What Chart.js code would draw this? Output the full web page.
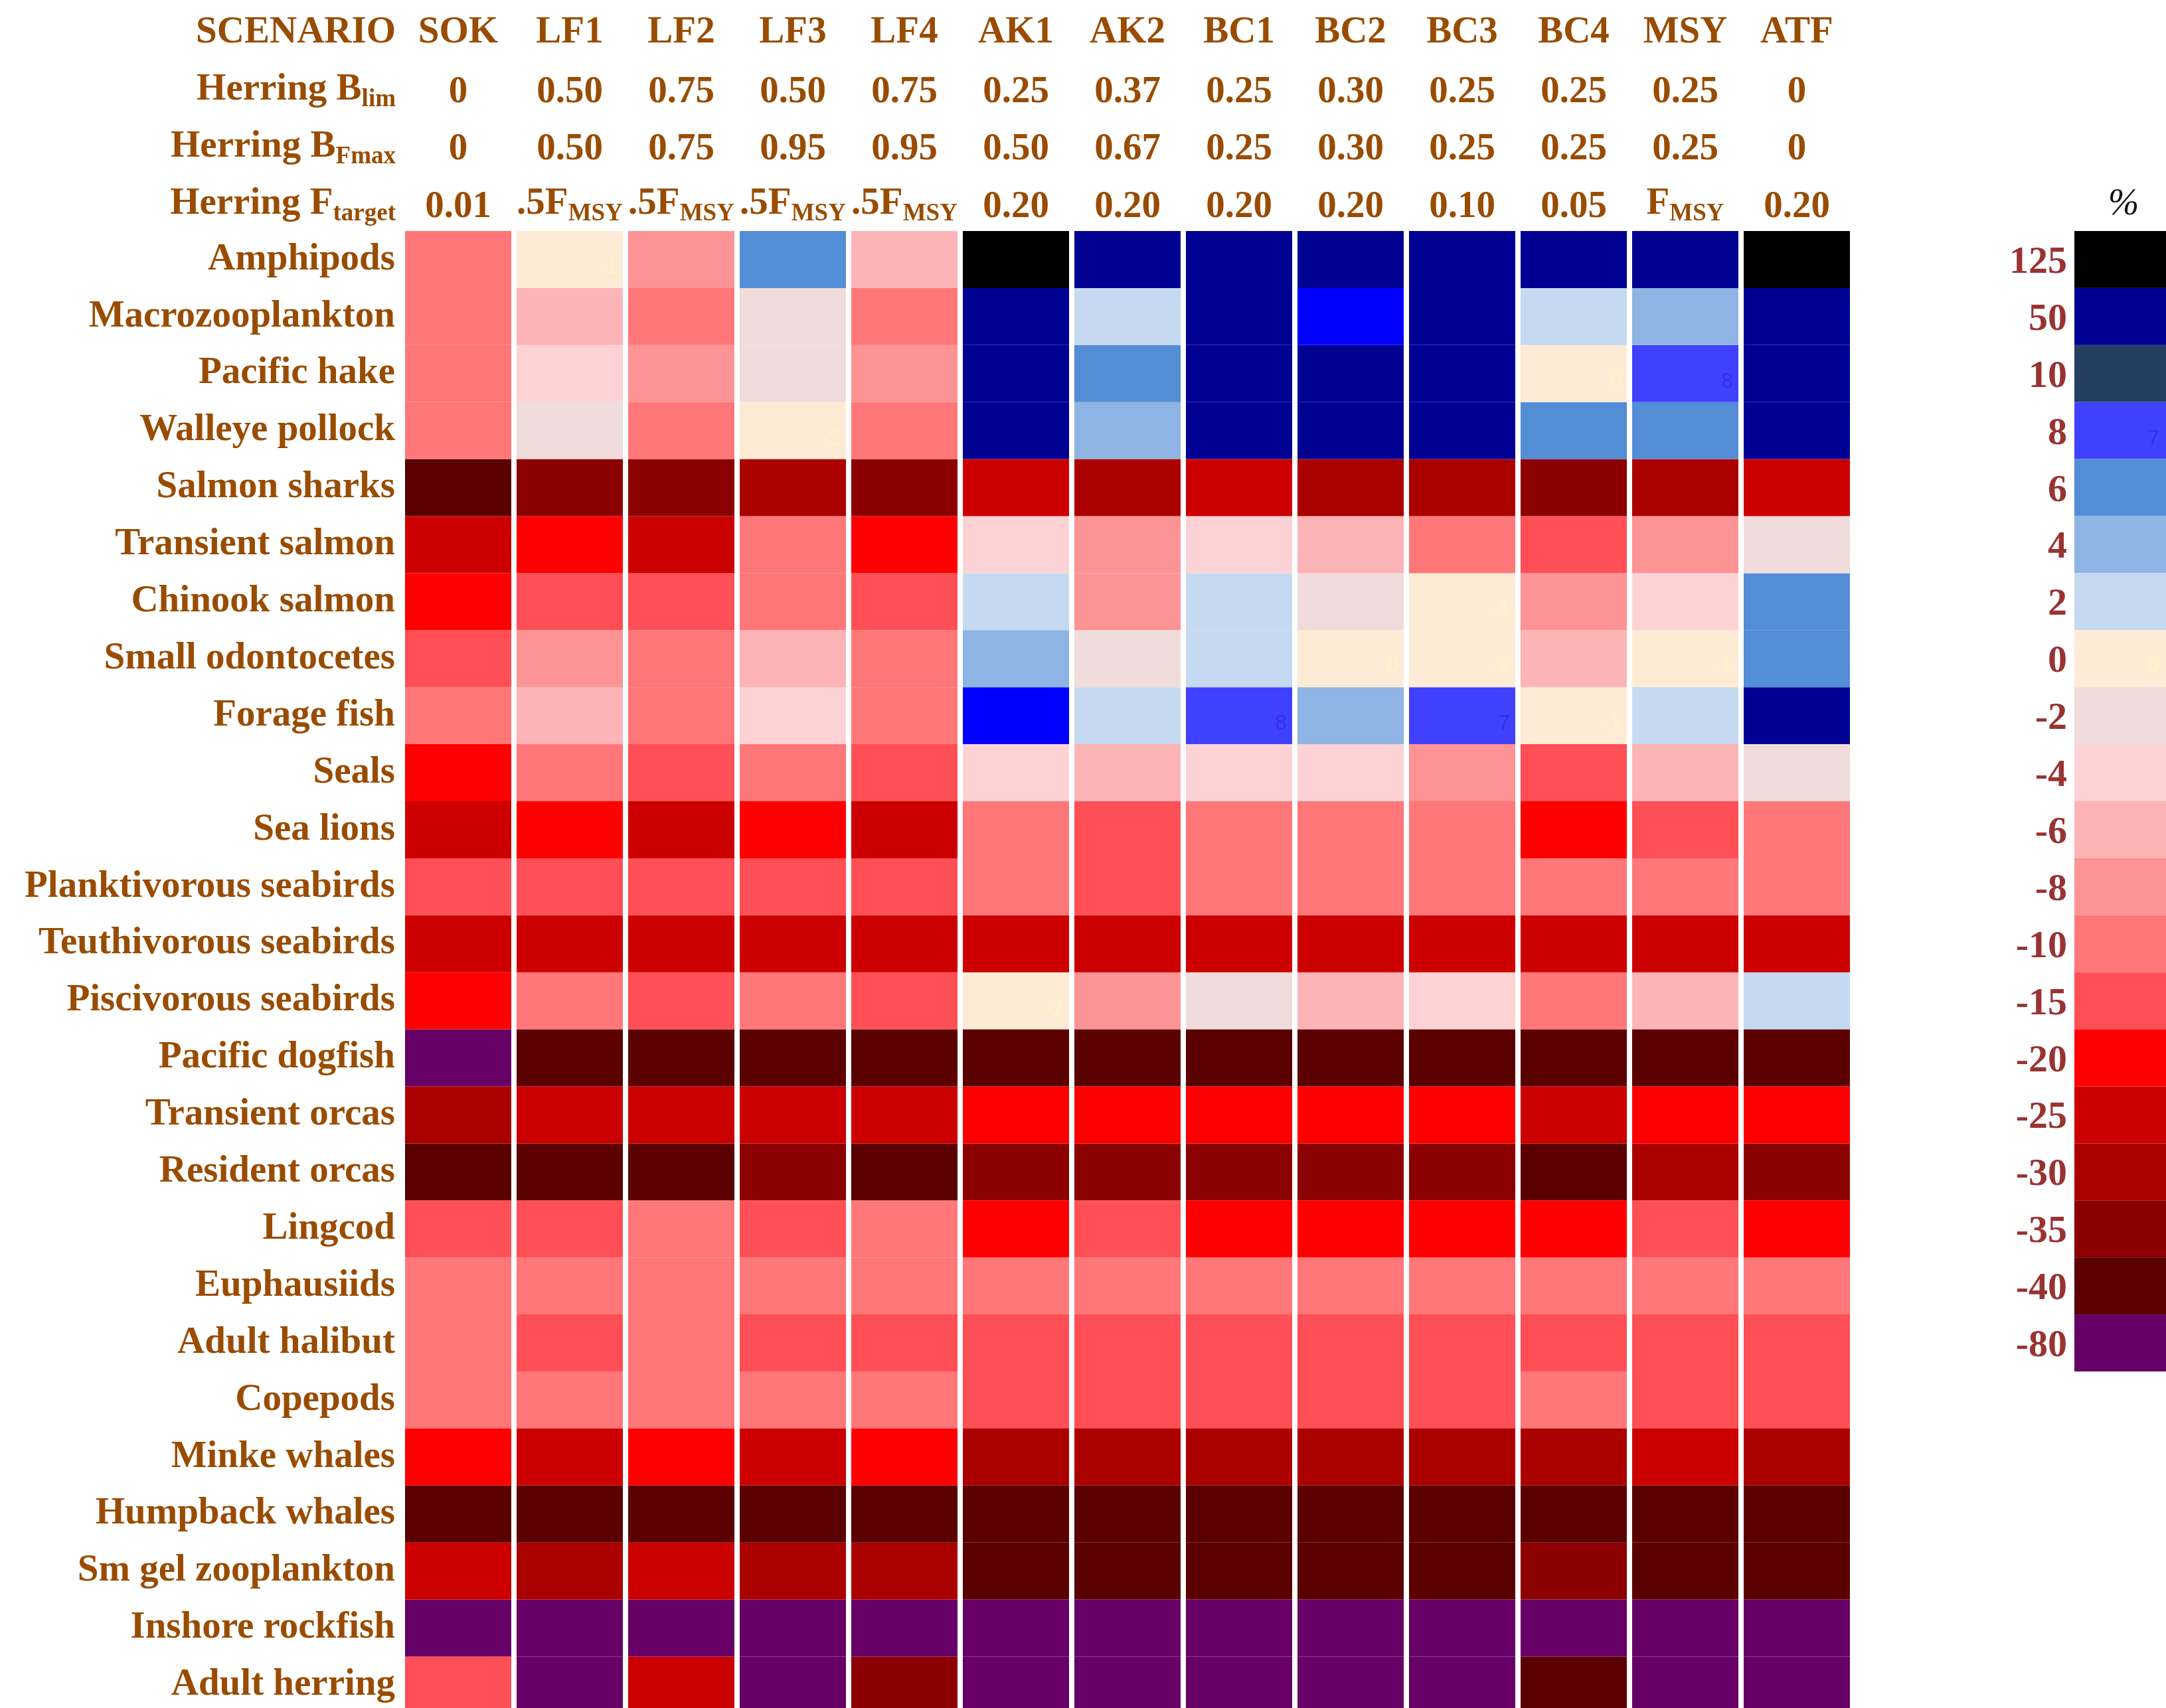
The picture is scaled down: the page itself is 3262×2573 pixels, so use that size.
<!DOCTYPE html>
<html><head><meta charset="utf-8">
<script src="https://cdn.jsdelivr.net/npm/chart.js@4.4.0/dist/chart.umd.min.js"></script>
<style>html,body{margin:0;padding:0;background:#fff;overflow:hidden}canvas{display:block}</style>
</head><body><canvas id="c" width="3262" height="2573"></canvas>
<script>
// ---------- DATA ----------
const scenarios = ['SOK','LF1','LF2','LF3','LF4','AK1','AK2','BC1','BC2','BC3','BC4','MSY','ATF'];
const herringBlim = ['0','0.50','0.75','0.50','0.75','0.25','0.37','0.25','0.30','0.25','0.25','0.25','0'];
const herringBFmax = ['0','0.50','0.75','0.95','0.95','0.50','0.67','0.25','0.30','0.25','0.25','0.25','0'];
const herringFtarget = ['0.01','.5F_MSY','.5F_MSY','.5F_MSY','.5F_MSY','0.20','0.20','0.20','0.20','0.10','0.05','F_MSY','0.20'];
const species = ['Amphipods','Macrozooplankton','Pacific hake','Walleye pollock','Salmon sharks','Transient salmon',
  'Chinook salmon','Small odontocetes','Forage fish','Seals','Sea lions','Planktivorous seabirds','Teuthivorous seabirds',
  'Piscivorous seabirds','Pacific dogfish','Transient orcas','Resident orcas','Lingcod','Euphausiids','Adult halibut',
  'Copepods','Minke whales','Humpback whales','Sm gel zooplankton','Inshore rockfish','Adult herring'];
// % change, columns in scenario order
const values = [
  [-10, -1, -8, 6, -6, 125, 50, 50, 50, 50, 50, 50, 125],
  [-10, -6, -10, -2, -10, 50, 2, 50, 20, 50, 2, 4, 50],
  [-10, -4, -8, -2, -8, 50, 6, 50, 50, 50, 0, 8, 50],
  [-10, -2, -10, -1.6, -10, 50, 4, 50, 50, 50, 6, 6, 50],
  [-40, -35, -35, -30, -35, -25, -30, -25, -30, -30, -35, -30, -25],
  [-25, -20, -25, -10, -20, -4, -8, -4, -6, -10, -15, -8, -2],
  [-20, -15, -15, -10, -15, 2, -8, 2, -2, -1, -8, -4, 6],
  [-15, -8, -10, -6, -10, 4, -2, 2, 0, -1.6, -6, -1, 6],
  [-10, -6, -10, -4, -10, 20, 2, 8, 4, 7, -1, 2, 50],
  [-20, -10, -15, -10, -15, -4, -6, -4, -4, -8, -15, -6, -2],
  [-25, -20, -25, -20, -25, -10, -15, -10, -10, -10, -20, -15, -10],
  [-15, -15, -15, -15, -15, -10, -15, -10, -10, -10, -10, -10, -10],
  [-25, -25, -25, -25, -25, -25, -25, -25, -25, -25, -25, -25, -25],
  [-20, -10, -15, -10, -15, -1.6, -8, -2, -6, -4, -10, -6, 2],
  [-80, -40, -40, -40, -40, -40, -40, -40, -40, -40, -40, -40, -40],
  [-30, -25, -25, -25, -25, -20, -20, -20, -20, -20, -25, -20, -20],
  [-40, -40, -40, -35, -40, -35, -35, -35, -35, -35, -40, -30, -35],
  [-15, -15, -10, -15, -10, -20, -15, -20, -20, -20, -20, -15, -20],
  [-10, -10, -10, -10, -10, -10, -10, -10, -10, -10, -10, -10, -10],
  [-10, -15, -10, -15, -15, -15, -15, -15, -15, -15, -15, -15, -15],
  [-10, -10, -10, -10, -10, -15, -15, -15, -15, -15, -10, -15, -15],
  [-20, -25, -20, -25, -20, -30, -30, -30, -30, -30, -30, -25, -30],
  [-40, -40, -40, -40, -40, -40, -40, -40, -40, -40, -40, -40, -40],
  [-25, -30, -25, -30, -30, -40, -40, -40, -40, -40, -35, -40, -40],
  [-80, -80, -80, -80, -80, -80, -80, -80, -80, -80, -80, -80, -80],
  [-15, -80, -25, -80, -35, -80, -80, -80, -80, -80, -40, -80, -80]
];
const legendLabels = ['125','50','10','8','6','4','2','0','-2','-4','-6','-8','-10','-15','-20','-25','-30','-35','-40','-80'];
const legendColors = ['#000000','#000093','#243f60','#4040ff','#538dd5','#8db4e2','#c5d9f1','#feebd6','#f0dcdb','#fdd2d5',
  '#fdb4b7','#fc9394','#ff7778','#ff4f56','#ff0000','#cc0000','#aa0000','#8b0000','#5a0000','#660066'];
const extraBinUpper = 20, extraBinColor = '#0000ff';   // shade used in cells, absent from the key
const faintCells = [[0,1],[2,10],[2,11],[3,3],[6,9],[7,8],[7,9],[7,11],[8,7],[8,9],[8,10],[13,5]];
const legendFaint = [[3,'7'],[7,'0']];

// ---------- STYLE / LAYOUT ----------
const W = 3262, H = 2573, TOP = 348, ROW_PX = 85.9, LABEL_W = 606, RIGHT_PAD = 472;
const BROWN = '#994c00', KEYRED = '#993333';
const SERIF = '"Liberation Serif", "Times New Roman", serif';

const bins = legendLabels.map((l, i) => ({upper: +l, color: legendColors[i]}))
  .concat([{upper: extraBinUpper, color: extraBinColor}])
  .sort((a, b) => a.upper - b.upper);
function colorFor(v) {
  for (const b of bins) if (v <= b.upper) return b.color;
  return bins[bins.length - 1].color;
}
const visibleRows = (H - TOP) / ROW_PX;

const datasets = species.map((name, r) => ({
  label: name,
  data: values[r].map(() => 1),
  backgroundColor: values[r].map(colorFor),
  borderWidth: 0,
  barPercentage: 160 / 168,
  categoryPercentage: 1,
  stack: 'grid'
}));

function drawRich(ctx, parts, x, y, align) {
  let total = 0;
  const m = parts.map(p => {
    ctx.font = p.sub ? `bold 37px ${SERIF}` : `bold 57px ${SERIF}`;
    const w = ctx.measureText(p.t).width; total += w; return w;
  });
  let cx = align === 'right' ? x - total : align === 'center' ? x - total / 2 : x;
  ctx.textAlign = 'left';
  parts.forEach((p, i) => {
    ctx.font = p.sub ? `bold 37px ${SERIF}` : `bold 57px ${SERIF}`;
    ctx.fillText(p.t, cx, p.sub ? y + 10 : y);
    cx += m[i];
  });
}
function parseRich(s) {
  if (s.indexOf('_') < 0) return [{t: s}];
  const [a, b] = s.split('_');
  return [{t: a}, {t: b, sub: true}];
}

const headerPlugin = {
  id: 'header',
  afterDraw(chart) {
    const ctx = chart.ctx, xs = chart.scales.x;
    const labelRight = 596;
    const base = [64, 150, 236, 322];
    ctx.save();
    ctx.fillStyle = BROWN;
    ctx.textBaseline = 'alphabetic';
    drawRich(ctx, [{t: 'SCENARIO'}], labelRight, base[0], 'right');
    drawRich(ctx, [{t: 'Herring B'}, {t: 'lim', sub: true}], labelRight, base[1], 'right');
    drawRich(ctx, [{t: 'Herring B'}, {t: 'Fmax', sub: true}], labelRight, base[2], 'right');
    drawRich(ctx, [{t: 'Herring F'}, {t: 'target', sub: true}], labelRight, base[3], 'right');
    scenarios.forEach((s, i) => {
      const cx = xs.getPixelForValue(i);
      drawRich(ctx, [{t: s}], cx, base[0], 'center');
      drawRich(ctx, parseRich(herringBlim[i]), cx, base[1] + 4, 'center');
      drawRich(ctx, parseRich(herringBFmax[i]), cx, base[2] + 4, 'center');
      const ft = parseRich(herringFtarget[i]);
      drawRich(ctx, ft, cx, base[3] + (ft.length > 1 ? 0 : 5), 'center');
    });
    // faint in-cell numbers
    ctx.font = `32px "Liberation Sans", Arial, sans-serif`;
    ctx.textAlign = 'right';
    faintCells.forEach(([r, c]) => {
      const el = chart.getDatasetMeta(r).data[c];
      const v = values[r][c];
      const right = el.x + el.width / 2 - 8;
      const bottom = Math.max(el.y, el.base);
      ctx.fillStyle = colorFor(v) === '#4040ff' ? '#3232e6' : '#fff4c2';
      ctx.fillText(String(Math.round(v)), right, bottom - 22);
    });
    // colour key
    const ys = chart.scales.y;
    legendLabels.forEach((l, i) => {
      const y0 = ys.getPixelForValue(i), y1 = ys.getPixelForValue(i + 1);
      ctx.fillStyle = legendColors[i];
      ctx.fillRect(3124, y0, W - 3124, y1 - y0);
      ctx.fillStyle = KEYRED;
      ctx.font = `bold 58px ${SERIF}`;
      ctx.textAlign = 'right';
      ctx.fillText(l, 3113, (y0 + y1) / 2 + 20);
    });
    ctx.font = `32px "Liberation Sans", Arial, sans-serif`;
    legendFaint.forEach(([i, t]) => {
      const y1 = ys.getPixelForValue(i + 1);
      ctx.fillStyle = i === 3 ? '#3232e6' : '#fff4c2';
      ctx.textAlign = 'right';
      ctx.fillText(t, 3252, y1 - 22);
    });
    ctx.fillStyle = '#111';
    ctx.font = `italic 56px ${SERIF}`;
    ctx.textAlign = 'center';
    ctx.fillText('%', 3198, 323);
    ctx.restore();
  }
};

new Chart(document.getElementById('c'), {
  type: 'bar',
  data: {labels: scenarios, datasets},
  options: {
    responsive: false,
    animation: false,
    devicePixelRatio: 1,
    layout: {padding: {top: TOP, right: RIGHT_PAD, bottom: 0, left: 0}},
    plugins: {legend: {display: false}, tooltip: {enabled: false}},
    scales: {
      x: {type: 'category', stacked: true, display: false, offset: true},
      y: {type: 'linear', stacked: true, display: false, reverse: true, min: 0, max: visibleRows},
      yLab: {
        type: 'linear', position: 'left', reverse: true, min: 0, max: visibleRows,
        afterBuildTicks: s => { s.ticks = species.map((n, i) => ({value: i + 0.5})); },
        afterFit: s => { s.width = LABEL_W; s.paddingTop = 0; s.paddingBottom = 0; },
        grid: {display: false, drawTicks: false},
        border: {display: false},
        ticks: {
          autoSkip: false, padding: 11, color: BROWN,
          font: {family: SERIF, size: 57, weight: 'bold'},
          callback: (v, i) => species[i]
        }
      }
    }
  },
  plugins: [headerPlugin]
});
</script>
</body></html>
